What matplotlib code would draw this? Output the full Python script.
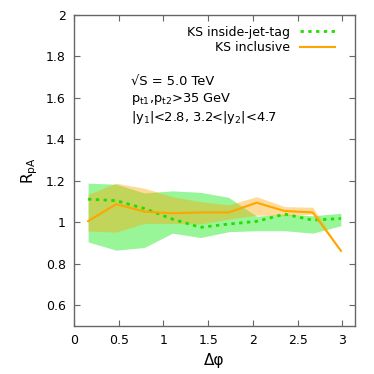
import numpy as np
import matplotlib.pyplot as plt

# bin centres in delta phi (10 bins over 0..pi)
dphi = [0.157, 0.471, 0.785, 1.100, 1.414, 1.728, 2.042, 2.356, 2.670, 2.985]

# KS inside-jet-tag
tag_central = [1.112, 1.105, 1.067, 1.016, 0.976, 0.992, 1.005, 1.040, 1.011, 1.019]
tag_upper = [1.189, 1.184, 1.142, 1.152, 1.145, 1.121, 1.030, 1.040, 1.032, 1.044]
tag_lower = [0.906, 0.866, 0.879, 0.948, 0.927, 0.955, 0.960, 0.960, 0.948, 0.984]

# KS inclusive
inc_central = [1.006, 1.088, 1.052, 1.044, 1.048, 1.048, 1.095, 1.055, 1.048, 0.863]
inc_upper = [1.135, 1.189, 1.165, 1.124, 1.100, 1.085, 1.124, 1.076, 1.073, 0.866]
inc_lower = [0.958, 0.953, 0.995, 0.995, 0.992, 1.016, 1.035, 1.032, 1.040, 0.860]

xticks = [0, 0.5, 1, 1.5, 2, 2.5, 3]
yticks = [0.6, 0.8, 1, 1.2, 1.4, 1.6, 1.8, 2]

plt.rcParams['font.family'] = 'DejaVu Sans'

fig = plt.figure(figsize=(3.74, 3.74), dpi=100)
ax = fig.add_axes([0.198, 0.128, 0.751, 0.832])

ax.fill_between(dphi, tag_lower, tag_upper, color='#33ee33', alpha=0.5, lw=0)
ax.fill_between(dphi, inc_lower, inc_upper, color='#ffa500', alpha=0.4, lw=0)
ax.plot(dphi, tag_central, color='#22dd00', lw=2, ls=(0, (1.2, 1.6)),
        label='KS inside-jet-tag')
ax.plot(dphi, inc_central, color='#ffa500', lw=1.5, label='KS inclusive')

ax.set_xlim(0, np.pi)
ax.set_ylim(0.5, 2)
ax.set_xticks(xticks)
ax.set_xticklabels(['0', '0.5', '1', '1.5', '2', '2.5', '3'])
ax.set_yticks(yticks)
ax.set_yticklabels(['0.6', '0.8', '1', '1.2', '1.4', '1.6', '1.8', '2'])
ax.tick_params(direction='in', top=True, right=True, length=4, width=0.8,
               color='#666666', labelsize=9, pad=6)
for s in ax.spines.values():
    s.set_color('#666666')
    s.set_linewidth(1)

ax.set_xlabel('Δφ', fontsize=11)
ax.set_ylabel('R$_\\mathregular{pA}$', fontsize=11)

leg = ax.legend(loc='upper right', bbox_to_anchor=(0.955, 0.99), frameon=False,
                fontsize=9, markerfirst=False, handlelength=2.8,
                borderaxespad=0.2, labelspacing=0.2)
for t in leg.get_texts():
    t.set_ha('right')

ax.text(0.64, 1.681, '√S = 5.0 TeV', fontsize=9.4, va='center')
ax.text(0.64, 1.595, 'p$_\\mathregular{t1}$,p$_\\mathregular{t2}$>35 GeV',
        fontsize=9.4, va='center')
ax.text(0.64, 1.504, '|y$_\\mathregular{1}$|<2.8, 3.2<|y$_\\mathregular{2}$|<4.7',
        fontsize=9.4, va='center')

fig.savefig('out.png', dpi=100)
